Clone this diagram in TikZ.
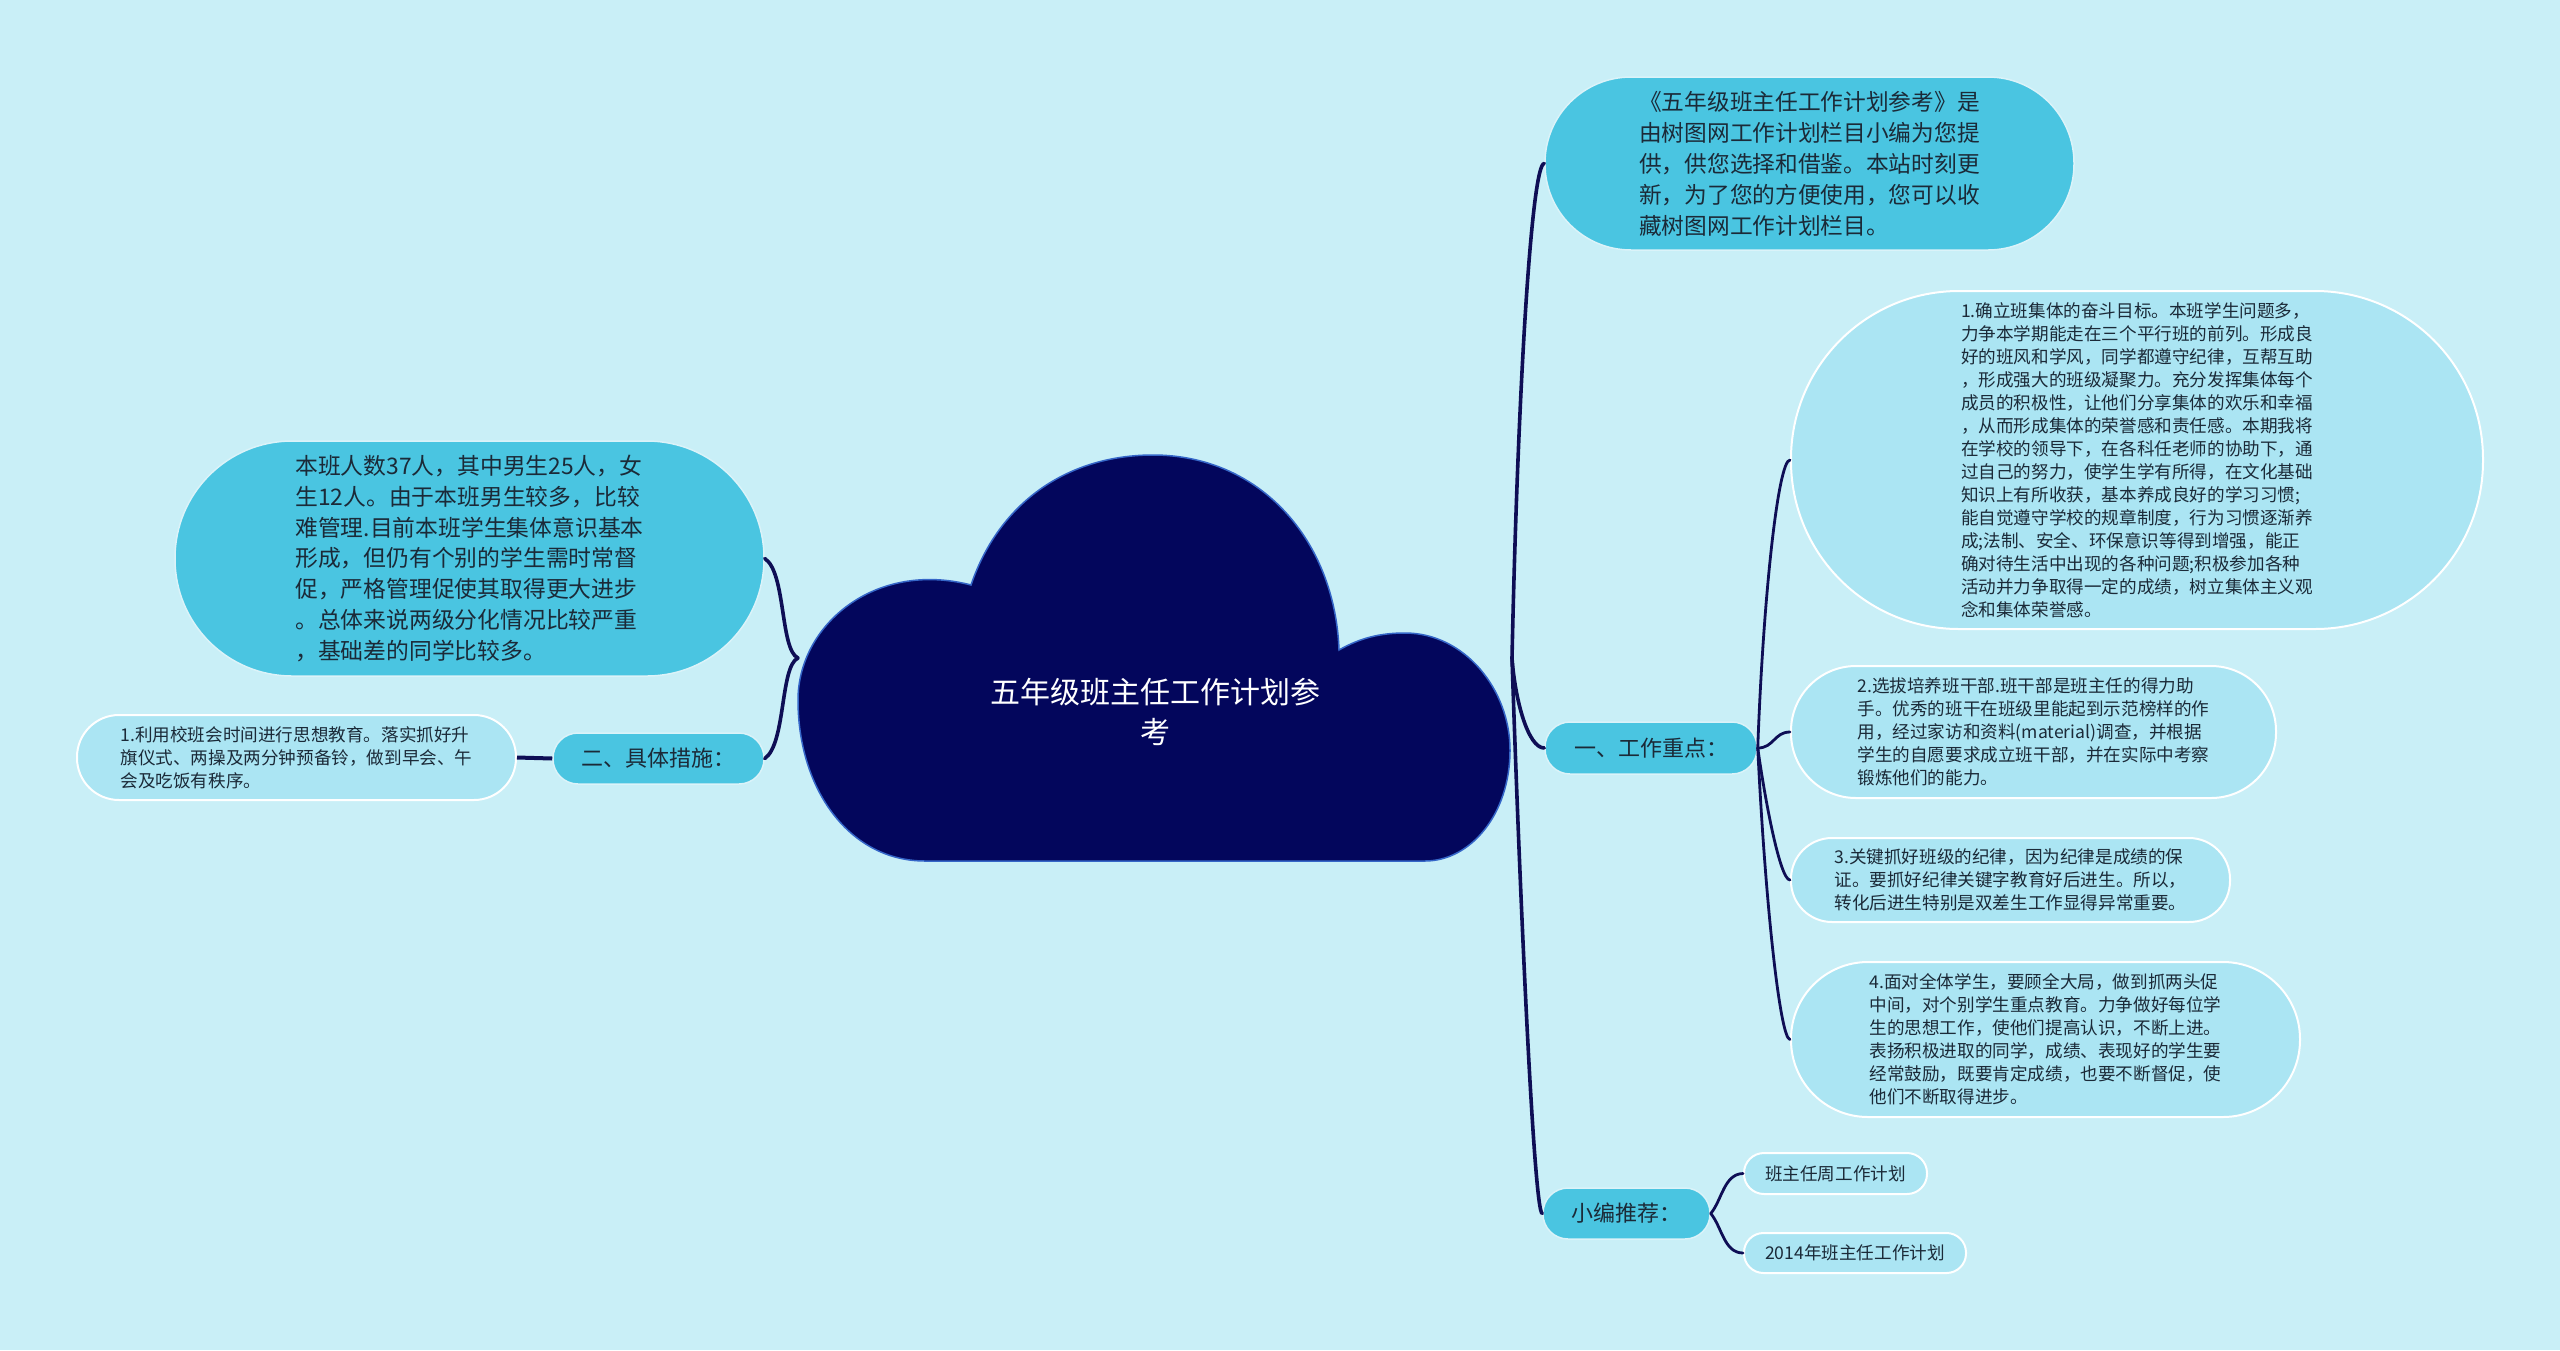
\documentclass[tikz,border=0pt]{standalone}
\usepackage{fontspec}
\setmainfont{Noto Sans CJK SC}
\usetikzlibrary{calc}
\definecolor{bg}{HTML}{C9EFF7}
\definecolor{lvl}{HTML}{4AC5E1}
\definecolor{leafc}{HTML}{ABE5F3}
\definecolor{navy}{HTML}{03065C}
\definecolor{cloudedge}{HTML}{3566C8}
\definecolor{linec}{HTML}{0E0E55}
\definecolor{txt}{HTML}{1B2A38}
\begin{document}
\begin{tikzpicture}[x=1pt,y=-1pt,
  pill/.style={draw=white!80!lvl, line width=1.5pt, fill=lvl, text=txt, align=left, inner sep=0pt},
  leaf/.style={draw=white, line width=2pt, fill=leafc, text=txt, align=left, inner sep=0pt, font=\fontsize{17.6}{23}\selectfont},
  conn/.style={draw=linec, line width=3.6pt, line cap=round},
  subconn/.style={draw=linec, line width=2.8pt, line cap=round}]

\useasboundingbox (0,0) rectangle (2560,1350);
\fill[bg] (0,0) rectangle (2560,1350);

% cloud
\path[fill=navy, draw=cloudedge, line width=1.5pt]
  (925,861) .. controls (850,861) and (798,790) .. (798,700)
  .. controls (798,625) and (875,560) .. (971,585)
  .. controls (1000,500) and (1070,455) .. (1153,455)
  .. controls (1260,455) and (1335,540) .. (1339,650)
  .. controls (1360,638) and (1380,633) .. (1405,633)
  .. controls (1465,633) and (1510,690) .. (1510,750)
  .. controls (1510,815) and (1470,861) .. (1425,861) -- cycle;
\node[text=white, align=center, inner sep=0pt, font=\fontsize{30}{40}\selectfont] (root) at (1155,712) {五年级班主任工作计划参\\考};

% right side
\node[pill, minimum width=529pt, minimum height=173pt, rounded corners=86pt, font=\fontsize{22.7}{31}\selectfont] (A) at (1809.5,163.5)
 {《五年级班主任工作计划参考》是\\由树图网工作计划栏目小编为您提\\供，供您选择和借鉴。本站时刻更\\新，为了您的方便使用，您可以收\\藏树图网工作计划栏目。};
\node[pill, minimum width=212pt, minimum height=52pt, rounded corners=25pt, font=\fontsize{22}{28}\selectfont] (N1) at (1651,748) {一、工作重点：};
\node[pill, minimum width=167pt, minimum height=51pt, rounded corners=25pt, font=\fontsize{22}{28}\selectfont] (N2) at (1626.5,1213.5) {小编推荐：};

\node[leaf, minimum width=692pt, minimum height=338pt, rounded corners=168pt] (L1) at (2137,460)
 {1.确立班集体的奋斗目标。本班学生问题多，\\力争本学期能走在三个平行班的前列。形成良\\好的班风和学风，同学都遵守纪律，互帮互助\\，形成强大的班级凝聚力。充分发挥集体每个\\成员的积极性，让他们分享集体的欢乐和幸福\\，从而形成集体的荣誉感和责任感。本期我将\\在学校的领导下，在各科任老师的协助下，通\\过自己的努力，使学生学有所得，在文化基础\\知识上有所收获，基本养成良好的学习习惯;\\能自觉遵守学校的规章制度，行为习惯逐渐养\\成;法制、安全、环保意识等得到增强，能正\\确对待生活中出现的各种问题;积极参加各种\\活动并力争取得一定的成绩，树立集体主义观\\念和集体荣誉感。};
\node[leaf, minimum width=485pt, minimum height=132pt, rounded corners=65pt] (L2) at (2033.5,732)
 {2.选拔培养班干部.班干部是班主任的得力助\\手。优秀的班干在班级里能起到示范榜样的作\\用，经过家访和资料(material)调查，并根据\\学生的自愿要求成立班干部，并在实际中考察\\锻炼他们的能力。};
\node[leaf, minimum width=439pt, minimum height=84pt, rounded corners=41pt] (L3) at (2010.5,880)
 {3.关键抓好班级的纪律，因为纪律是成绩的保\\证。要抓好纪律关键字教育好后进生。所以，\\转化后进生特别是双差生工作显得异常重要。};
\node[leaf, minimum width=509pt, minimum height=155pt, rounded corners=77pt] (L4) at (2045.5,1039.5)
 {4.面对全体学生，要顾全大局，做到抓两头促\\中间，对个别学生重点教育。力争做好每位学\\生的思想工作，使他们提高认识，不断上进。\\表扬积极进取的同学，成绩、表现好的学生要\\经常鼓励，既要肯定成绩，也要不断督促，使\\他们不断取得进步。};
\node[leaf, minimum width=183pt, minimum height=41pt, rounded corners=20pt] (M1) at (1835.5,1173.5) {班主任周工作计划};
\node[leaf, minimum width=222pt, minimum height=40pt, rounded corners=19.5pt] (M2) at (1855,1253) {2014年班主任工作计划};

% left side
\node[pill, minimum width=589pt, minimum height=235pt, rounded corners=117pt, font=\fontsize{22.8}{30.7}\selectfont] (B) at (469.5,558.5)
 {本班人数37人，其中男生25人，女\\生12人。由于本班男生较多，比较\\难管理.目前本班学生集体意识基本\\形成，但仍有个别的学生需时常督\\促，严格管理促使其取得更大进步\\。总体来说两级分化情况比较严重\\，基础差的同学比较多。};
\node[pill, minimum width=211pt, minimum height=51pt, rounded corners=25pt, font=\fontsize{22}{28}\selectfont] (C) at (658.5,758.5) {二、具体措施：};
\node[leaf, minimum width=439pt, minimum height=85pt, rounded corners=42pt] (D) at (296.5,757.5)
 {1.利用校班会时间进行思想教育。落实抓好升\\旗仪式、两操及两分钟预备铃，做到早会、午\\会及吃饭有秩序。};

% junctions
\coordinate (JR) at (1512,658);
\coordinate (JL) at (798,658);

% connectors
\draw[conn] (JR) .. controls (1518,380) and (1532,163) .. (A.west);
\draw[conn] (JR) .. controls (1515,700) and (1528,748) .. (N1.west);
\draw[conn] (JR) .. controls (1520,900) and (1534,1213) .. (N2.west);

\draw[subconn] (N1.east) .. controls (1763,600) and (1778,460) .. (L1.west);
\draw[subconn] (N1.east) .. controls (1774,748) and (1774,732) .. (L2.west);
\draw[subconn] (N1.east) .. controls (1765,800) and (1780,880) .. (L3.west);
\draw[subconn] (N1.east) .. controls (1765,900) and (1780,1039) .. (L4.west);

\draw[subconn] (N2.east) .. controls (1722,1200) and (1724,1174) .. (M1.west);
\draw[subconn] (N2.east) .. controls (1722,1227) and (1724,1253) .. (M2.west);

\draw[conn] (JL) .. controls (780,650) and (786,572) .. (B.east);
\draw[conn] (JL) .. controls (780,666) and (786,744) .. (C.east);
\draw[draw=linec, line width=4pt] (C.west) -- (D.east);
\end{tikzpicture}
\end{document}
